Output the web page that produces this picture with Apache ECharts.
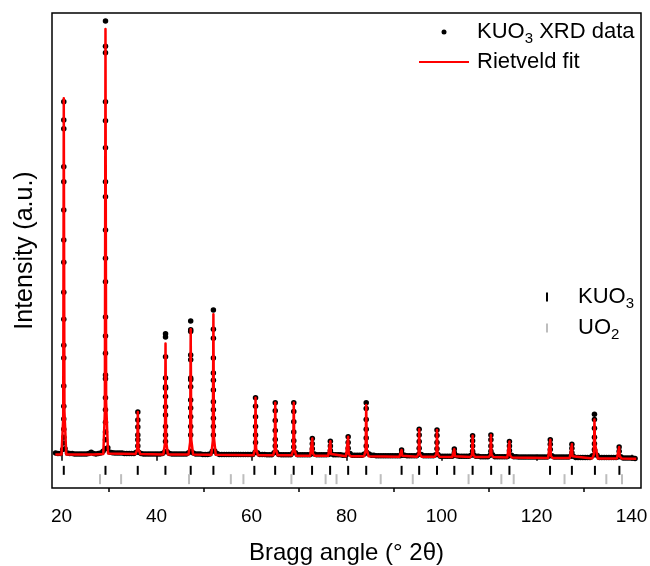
<!DOCTYPE html>
<html><head><meta charset="utf-8">
<script src="https://cdn.jsdelivr.net/npm/echarts@6/dist/echarts.min.js"></script>
<style>html,body{margin:0;padding:0;background:#fff}#c{width:650px;height:566px}</style>
</head><body><div id="c"></div>
<script>
const FONT = '"Liberation Sans", Arial, sans-serif';
const xTicks = [20, 40, 60, 80, 100, 120, 140];
const xMinorTicks = [30, 50, 70, 90, 110, 130];

// observed background, 0.5 deg steps starting 18.75 deg
const bgStart = 18.75, bgStep = 0.5;
const bgObs = [
  4,3,3,12,14,4,3,3,2,2,2,2,2,2,3,6,3,2,3,4,
  8,14,16,6,5,4,4,4,4,3,3,3,3,3,6,6,3,2,2,2,
  2,2,2,2,2,3,7,7,3,2,2,2,2,2,2,2,5,8,4,2,
  2,2,1,1,1,2,8,9,3,1,1,1,1,1,1,1,1,1,1,1,
  1,1,1,1,6,5,1,1,1,0,0,0,5,6,1,0,0,0,0,0,
  5,5,0,0,0,0,0,0,3,2,0,0,0,0,0,1,3,0,0,0,
  0,-1,-1,2,3,-1,-1,-1,-1,-1,2,6,2,-1,-1,-2,-2,-2,-2,-2,
  -2,-2,-2,-2,-2,-2,-1,-1,-2,-2,-2,-2,-2,2,1,-2,-2,-2,-2,-2,
  0,1,-3,-3,-3,-3,-3,-3,-1,-2,-3,-3,-3,-3,-3,-1,0,-3,-3,-4,
  -4,-4,-4,-1,0,-4,-4,-4,-4,-4,-4,-2,-1,-4,-4,-5,-5,-5,-5,-5,
  -5,-5,-5,-5,-5,-5,-5,-5,-2,-2,-5,-5,-5,-5,-5,-5,-5,-3,-3,-6,
  -6,-6,-6,-6,-6,-6,-2,10,-1,-6,-6,-6,-6,-6,-6,-6,-6,-4,-4,-7,
  -7,-7,-7,-7,-8
];

// observed points on the peaks
const peakCentres = [20.48, 29.26, 36.07, 41.9, 47.2, 51.98, 60.85, 65.0, 68.9, 72.8, 76.6, 80.35,
  84.15, 91.6, 95.3, 99.05, 102.7, 106.55, 110.4, 114.3, 122.9, 127.45, 132.2, 137.4];
const peakDots = [
  [799,758,738,652,618,554,486,436,368,307,248,219,156,110,81,58,40,27],
  [982,925,910,799,756,695,618,584,509,445,392,312,269,230,181,172,129,102,74,52,34],
  [97,79,63,45,34,20],
  [274,267,222,174,154,151,132,109,90,64,45,30],
  [303,283,279,226,215,174,170,154,124,106,86,64,45],
  [328,284,264,219,185,169,147,120,102,83,64,45],
  [129,110,86,64,45,28],
  [118,100,78,55,35,20],
  [118,98,75,52,32,18],
  [37,25,14],
  [31,20,10],
  [41,28,15],
  [118,105,80,58,38,20],
  [11,4],
  [58,45,30,15],
  [56,44,28,14],
  [13,5],
  [43,32,20,8],
  [45,34,20,8],
  [30,20,10],
  [34,24,12],
  [24,15,5],
  [92,80,60,40,25,12],
  [18,8]
];

// Rietveld fit curve
const fitLine = [
  [18.7,1],
  [20.0,1],[20.36,82],[20.48,807],[20.62,98],[21.0,1],
  [25.9,1],[26.3,5],[26.7,1],
  [28.8,2],[29.13,98],[29.26,964],[29.4,118],[29.8,3],
  [35.6,2],[35.95,12],[36.07,97],[36.19,14],[36.57,2],
  [41.45,1],[41.78,26],[41.9,252],[42.02,31],[42.4,1],
  [46.75,1],[47.08,29],[47.2,284],[47.32,35],[47.7,1],
  [51.53,0],[51.86,32],[51.98,318],[52.1,38],[52.48,0],
  [60.4,-1],[60.73,12],[60.85,129],[60.97,15],[61.35,-1],
  [64.55,-1],[64.88,11],[65.0,118],[65.12,14],[65.5,-1],
  [68.45,-1],[68.78,11],[68.9,118],[69.02,14],[69.4,-2],
  [72.35,-2],[72.68,2],[72.8,37],[72.92,3],[73.3,-2],
  [76.15,-2],[76.48,1],[76.6,31],[76.72,2],[77.1,-2],
  [79.9,-3],[80.23,1],[80.35,41],[80.47,2],[80.85,-3],
  [83.7,-3],[84.03,9],[84.15,113],[84.27,12],[84.65,-3],
  [91.15,-4],[91.48,-3],[91.6,11],[91.72,-2],[92.1,-4],
  [94.85,-4],[95.18,2],[95.3,58],[95.42,3],[95.8,-4],
  [98.6,-4],[98.93,2],[99.05,56],[99.17,3],[99.55,-4],
  [102.25,-5],[102.58,-3],[102.7,13],[102.82,-3],[103.2,-5],
  [106.1,-5],[106.43,0],[106.55,43],[106.67,1],[107.05,-5],
  [109.95,-5],[110.28,0],[110.4,45],[110.52,1],[110.9,-5],
  [113.85,-6],[114.18,-2],[114.3,30],[114.42,-1],[114.8,-6],
  [122.45,-7],[122.78,-3],[122.9,34],[123.02,-2],[123.4,-7],
  [127.0,-7],[127.33,-4],[127.45,24],[127.57,-3],[127.95,-7],
  [131.75,-8],[132.08,1],[132.2,80],[132.32,25],[132.5,15],[132.9,-8],
  [136.95,-8],[137.28,-5],[137.4,18],[137.52,-3],[137.9,-8],
  [141.0,-9]
];

// Bragg reflection positions
const kuo3Refl = [20.48, 29.26, 36.05, 41.88, 47.2, 51.98, 60.6, 64.98, 68.88, 72.75, 76.55, 80.35,
  84.15, 91.6, 95.3, 99.05, 102.7, 106.55, 110.45, 114.3, 122.85, 127.45, 132.3, 137.45];
const uo2Refl = [28.1, 32.55, 46.85, 55.65, 58.3, 68.4, 75.6, 77.9, 87.2, 93.95, 105.7, 112.6,
  115.2, 125.9, 134.7, 138.0];

const obsData = bgObs.map((v, i) => [bgStart + i * bgStep, v]);
peakCentres.forEach((c, k) => peakDots[k].forEach(v => obsData.push([c, v])));

const chart = echarts.init(document.getElementById('c'), null, {renderer: 'canvas'});
const fmt = n => n.replace('KUO3', 'KUO{s|3}').replace('UO2', 'UO{s|2}');
const legendText = (pad) => ({
  fontFamily: FONT, fontSize: 22, color: '#000', lineHeight: 28, padding: [0, 0, 0, pad],
  rich: { s: { fontFamily: FONT, fontSize: 15, color: '#000', verticalAlign: 'bottom' } }
});
chart.setOption({
  animation: false,
  textStyle: { fontFamily: FONT },
  grid: { left: 52, right: 9, top: 13, bottom: 78, show: true, borderColor: '#000', borderWidth: 1.5,
    backgroundColor: 'transparent', containLabel: false, outerBoundsMode: 'none' },
  legend: [
    { data: [{ name: 'KUO3 XRD data', icon: 'circle' }, { name: 'Rietveld fit', itemStyle: { opacity: 0 } }],
      orient: 'vertical', left: 418, top: 18, padding: 0, itemWidth: 50, itemHeight: 5, itemGap: 2,
      formatter: fmt, textStyle: legendText(3), selectedMode: false },
    { data: [{ name: 'KUO3', icon: 'rect' }, { name: 'UO2', icon: 'rect' }],
      orient: 'vertical', left: 546, top: 283, padding: 0, itemWidth: 2, itemHeight: 9, itemGap: 3,
      formatter: fmt, textStyle: legendText(25), selectedMode: false }
  ],
  xAxis: [
    { type: 'value', min: 18, max: 142, position: 'bottom',
      name: 'Bragg angle (\u00b0 2\u03b8)', nameLocation: 'middle', nameGap: 53,
      nameTextStyle: { fontFamily: FONT, fontSize: 24, color: '#000' },
      axisLine: { show: false }, splitLine: { show: false },
      axisTick: { show: true, inside: false, length: 6, customValues: xTicks, lineStyle: { color: '#000', width: 1.5 } },
      axisLabel: { show: true, customValues: xTicks, margin: 19, fontFamily: FONT, fontSize: 19, color: '#000' } },
    { type: 'value', min: 18, max: 142, position: 'bottom',
      axisLine: { show: false }, splitLine: { show: false },
      axisTick: { show: true, inside: false, length: 4, customValues: xMinorTicks, lineStyle: { color: '#000', width: 1.5 } },
      axisLabel: { show: false } }
  ],
  yAxis: { type: 'value', min: -75, max: 1000,
    name: 'Intensity (a.u.)', nameLocation: 'middle', nameGap: 14,
    nameTextStyle: { fontFamily: FONT, fontSize: 25, color: '#000' },
    axisLine: { show: false }, axisTick: { show: false }, axisLabel: { show: false }, splitLine: { show: false } },
  series: [
    { name: 'KUO3', type: 'scatter', symbol: 'rect', symbolSize: [2, 9], z: 1,
      itemStyle: { color: '#000', opacity: 1 }, data: kuo3Refl.map(x => [x, -35]) },
    { name: 'UO2', type: 'scatter', symbol: 'rect', symbolSize: [2, 10], z: 1,
      itemStyle: { color: '#bdbdbd', opacity: 1 }, data: uo2Refl.map(x => [x, -55]) },
    { name: 'KUO3 XRD data', type: 'scatter', symbol: 'circle', symbolSize: 5.5, z: 2,
      itemStyle: { color: '#000', opacity: 1 }, data: obsData },
    { name: 'Rietveld fit', type: 'line', symbol: 'none', z: 3,
      lineStyle: { color: '#ff0000', width: 2.5, join: 'round' }, itemStyle: { color: '#ff0000' }, data: fitLine }
  ]
});
</script></body></html>
